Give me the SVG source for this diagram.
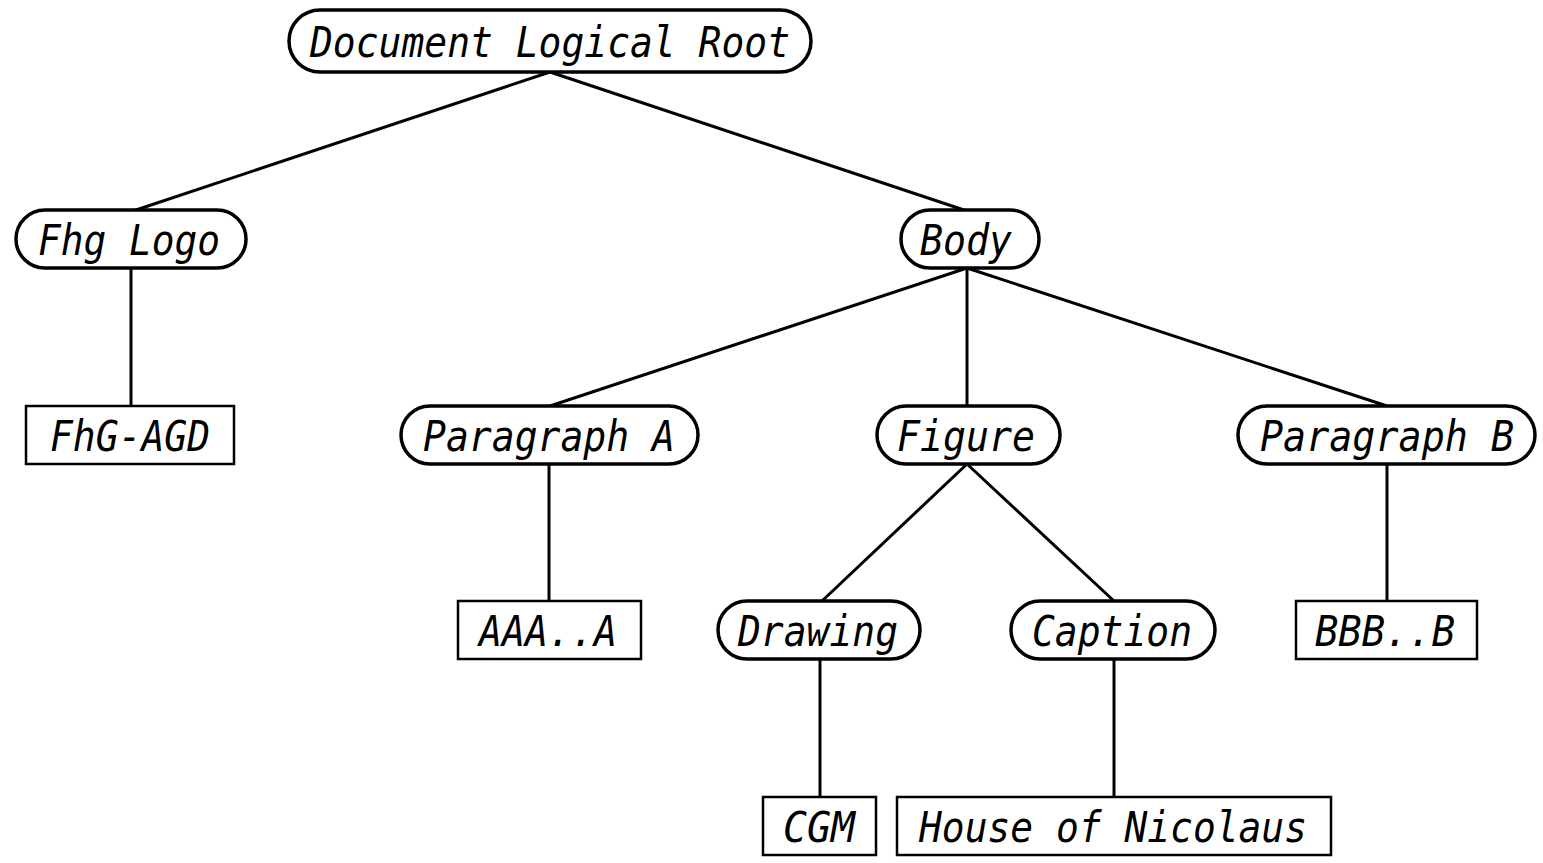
<svg xmlns="http://www.w3.org/2000/svg" width="1543" height="863" viewBox="0 0 1543 863">
<style>
.pill{fill:#fff;stroke:#000;stroke-width:3.5}
.box{fill:#fff;stroke:#000;stroke-width:2.5}
.lbl{font-family:"DejaVu Sans Mono","Liberation Mono",monospace;font-style:italic;font-size:43px;fill:#000;text-anchor:middle}
.edge{stroke:#000;stroke-width:3;fill:none}
</style>
<rect width="1543" height="863" fill="#fff"/>
<g id="connectors">
<line class="edge" x1="550" y1="72" x2="133" y2="211"/>
<line class="edge" x1="550" y1="72" x2="967" y2="211"/>
<line class="edge" x1="131" y1="268" x2="131" y2="406"/>
<line class="edge" x1="967" y1="268" x2="550" y2="406"/>
<line class="edge" x1="967" y1="268" x2="967" y2="406"/>
<line class="edge" x1="967" y1="268" x2="1387" y2="406"/>
<line class="edge" x1="549" y1="464" x2="549" y2="601"/>
<line class="edge" x1="967" y1="464" x2="822" y2="601"/>
<line class="edge" x1="967" y1="464" x2="1114" y2="601"/>
<line class="edge" x1="1387" y1="464" x2="1387" y2="601"/>
<line class="edge" x1="820" y1="659" x2="820" y2="797"/>
<line class="edge" x1="1114" y1="659" x2="1114" y2="797"/>
</g>
<g id="root"><rect class="pill" x="289" y="10" width="522" height="62" rx="31"/><text class="lbl" x="550" y="57" textLength="480" lengthAdjust="spacingAndGlyphs">Document Logical Root</text></g>
<g id="fhglogo"><rect class="pill" x="16" y="210" width="230" height="58" rx="29"/><text class="lbl" x="129" y="255" textLength="182" lengthAdjust="spacingAndGlyphs">Fhg Logo</text></g>
<g id="fhgagd"><rect class="box" x="26" y="406" width="208" height="58"/><text class="lbl" x="130" y="451" textLength="160" lengthAdjust="spacingAndGlyphs">FhG-AGD</text></g>
<g id="body"><rect class="pill" x="901" y="210" width="138" height="58" rx="29"/><text class="lbl" x="966" y="255" textLength="92" lengthAdjust="spacingAndGlyphs">Body</text></g>
<g id="paragraphA"><rect class="pill" x="401" y="406" width="297" height="58" rx="29"/><text class="lbl" x="549" y="451" textLength="252" lengthAdjust="spacingAndGlyphs">Paragraph A</text></g>
<g id="figure"><rect class="pill" x="877" y="406" width="183" height="58" rx="29"/><text class="lbl" x="966" y="451" textLength="138" lengthAdjust="spacingAndGlyphs">Figure</text></g>
<g id="paragraphB"><rect class="pill" x="1238" y="406" width="297" height="58" rx="29"/><text class="lbl" x="1387" y="451" textLength="254" lengthAdjust="spacingAndGlyphs">Paragraph B</text></g>
<g id="aaa"><rect class="box" x="458" y="601" width="183" height="58"/><text class="lbl" x="548" y="646" textLength="138" lengthAdjust="spacingAndGlyphs">AAA..A</text></g>
<g id="drawing"><rect class="pill" x="718" y="601" width="202" height="58" rx="29"/><text class="lbl" x="818" y="646" textLength="160" lengthAdjust="spacingAndGlyphs">Drawing</text></g>
<g id="caption"><rect class="pill" x="1011" y="601" width="204" height="58" rx="29"/><text class="lbl" x="1112" y="646" textLength="160" lengthAdjust="spacingAndGlyphs">Caption</text></g>
<g id="bbb"><rect class="box" x="1296" y="601" width="181" height="58"/><text class="lbl" x="1385" y="646" textLength="140" lengthAdjust="spacingAndGlyphs">BBB..B</text></g>
<g id="cgm"><rect class="box" x="763" y="797" width="113" height="58"/><text class="lbl" x="819" y="842" textLength="72" lengthAdjust="spacingAndGlyphs">CGM</text></g>
<g id="house"><rect class="box" x="897" y="797" width="434" height="58"/><text class="lbl" x="1113" y="842" textLength="388" lengthAdjust="spacingAndGlyphs">House of Nicolaus</text></g>
</svg>
